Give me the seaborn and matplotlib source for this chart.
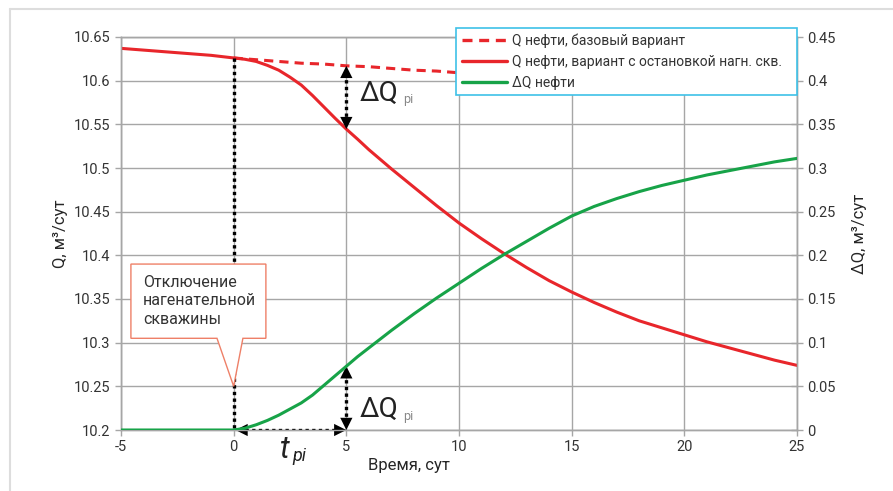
import matplotlib as mpl
import matplotlib.pyplot as plt
import seaborn as sns
import pandas as pd
from matplotlib.lines import Line2D
from matplotlib.patches import Polygon

# --- data (half-day steps where the curves bend) ---
days = [-5, -4, -3, -2, -1, 0, 0.5, 1, 1.5, 2, 2.5, 3, 3.5, 4, 4.5, 5, 5.5, 6, 7, 8, 9,
        10, 11, 12, 13, 14, 15, 16, 17, 18, 19, 20, 21, 22, 23, 24, 25]
q_stop = [10.637, 10.635, 10.633, 10.631, 10.629, 10.626, 10.6245, 10.622, 10.6175, 10.612,
          10.604, 10.595, 10.583, 10.570, 10.557, 10.5445, 10.533, 10.521, 10.499, 10.478,
          10.457, 10.437, 10.419, 10.402, 10.386, 10.371, 10.358, 10.346, 10.335, 10.325,
          10.317, 10.309, 10.301, 10.294, 10.287, 10.280, 10.274]
dq = [0, 0, 0, 0, 0, 0, 0.002, 0.006, 0.011, 0.017, 0.024, 0.031, 0.040, 0.051, 0.062,
      0.073, 0.084, 0.094, 0.114, 0.133, 0.151, 0.168, 0.185, 0.201, 0.216, 0.231, 0.245,
      0.256, 0.265, 0.273, 0.280, 0.286, 0.292, 0.297, 0.302, 0.307, 0.311]
days_base = [0, 1, 2, 3, 4, 5, 6, 7, 8, 9, 10, 11, 12, 13, 14, 15, 16, 17, 18, 19, 20,
             21, 22, 23, 24, 25]
q_base = [10.626, 10.624, 10.622, 10.620, 10.619, 10.617, 10.616, 10.614, 10.612, 10.611,
          10.609, 10.608, 10.607, 10.606, 10.605, 10.604, 10.603, 10.602, 10.601, 10.600,
          10.599, 10.598, 10.597, 10.596, 10.595, 10.594]

lbl_base = 'Q нефти, базовый вариант'
lbl_stop = 'Q нефти, вариант с остановкой нагн. скв.'
lbl_dq = 'ΔQ нефти'

t_shut = 0      # отключение скважины
t_pi = 5        # момент t_pi
i_pi = days.index(t_pi)

RED = '#E8262B'
GREEN = '#17A348'
GRID = '#A6A6A6'

sns.set_style('white')
plt.rcParams['font.family'] = ['Roboto', 'DejaVu Sans']
plt.rcParams['text.color'] = '#333333'
plt.rcParams['axes.unicode_minus'] = False
plt.rcParams['lines.solid_joinstyle'] = 'round'

frame = pd.DataFrame({'t': days, 'q': q_stop, 'dq': dq})
frame_base = pd.DataFrame({'t': days_base, 'q': q_base})

fig = plt.figure(figsize=(8.93, 4.91), dpi=100)
ax = fig.add_axes([121/893, 1-430/491, 676/893, 393/491])
ax2 = ax.twinx()

sns.lineplot(data=frame_base, x='t', y='q', ax=ax, color=RED, lw=2.2, zorder=3)
ax.lines[-1].set_dashes((3, 2))
sns.lineplot(data=frame, x='t', y='q', ax=ax, color=RED, lw=2.2, zorder=3)
sns.lineplot(data=frame, x='t', y='dq', ax=ax2, color=GREEN, lw=2.2, zorder=3)

ax.set_xlim(-5, 25)
ax.set_ylim(10.2, 10.65)
ax2.set_ylim(0, 0.45)
ax.set_xticks(range(-5, 26, 5))
ax.set_yticks([10.2 + 0.05*i for i in range(10)])
ax.set_yticklabels(['10.2', '10.25', '10.3', '10.35', '10.4', '10.45', '10.5',
                    '10.55', '10.6', '10.65'])
ax2.set_yticks([0.05*i for i in range(10)])
ax2.set_yticklabels(['0', '0.05', '0.1', '0.15', '0.2', '0.25', '0.3', '0.35', '0.4', '0.45'])

ax.grid(True, color=GRID, lw=1)
for a in (ax, ax2):
    for s in a.spines.values():
        s.set_color(GRID)
        s.set_linewidth(1)
ax.tick_params(axis='both', labelsize=10.5, colors=GRID, labelcolor='#333333',
               length=4, width=1, direction='out', left=True, bottom=True)
ax2.tick_params(axis='y', labelsize=10.5, colors=GRID, labelcolor='#333333',
                length=8, width=1, direction='inout', right=True)

ax.set_xlabel('Время, сут', fontsize=12)
ax.set_ylabel('Q, м³/сут', fontsize=12)
ax2.set_ylabel('ΔQ, м³/сут', fontsize=12)
ax.xaxis.set_label_coords(0.426, -0.072)
ax.yaxis.set_label_coords(-0.078, 0.5)
ax2.yaxis.set_label_coords(1.081, 0.5)

# dotted helper lines with arrow heads
q_base_pi = q_base[days_base.index(t_pi)]
dot = dict(color='black', lw=2.4, linestyle=(0, (1, 1)), dash_capstyle='butt', zorder=4)
ax.plot([t_shut, t_shut], [q_stop[days.index(t_shut)], 10.2], **dot)
ax.plot([t_pi, t_pi], [q_base_pi - 0.008, q_stop[i_pi] + 0.008], **dot)
ax.plot([t_pi, t_pi], [10.2 + 0.008, 10.2 + dq[i_pi] - 0.008], **dot)
ax.plot([t_shut + 0.5, t_pi - 0.5], [10.2, 10.2], **dot)

def head(x, y, dx, dy):
    ax.annotate('', xy=(x, y), xytext=(x - dx, y - dy),
                arrowprops=dict(arrowstyle='-|>', color='black', lw=0,
                                mutation_scale=22, shrinkA=0, shrinkB=0), zorder=5)

head(t_pi, q_base_pi, 0, 0.014)
head(t_pi, q_stop[i_pi], 0, -0.014)
head(t_pi, 10.2 + dq[i_pi], 0, 0.014)
head(t_pi, 10.2, 0, -0.014)
head(t_shut + 0.08, 10.2, -0.7, 0)
head(t_pi, 10.2, 0.7, 0)

ax.text(5.6, 10.5765, 'ΔQ', fontsize=20, va='baseline', color='#222222')
ax.text(7.5, 10.574, 'pi', fontsize=9, va='baseline', color='#888888')
ax.text(5.6, 10.2155, 'ΔQ', fontsize=20, va='baseline', color='#222222')
ax.text(7.5, 10.212, 'pi', fontsize=9, va='baseline', color='#888888')
ax.text(2.05, 10.1685, 't', fontsize=22, style='italic', va='baseline',
        color='#222222', clip_on=False)
ax.text(2.6, 10.164, 'pi', fontsize=13, style='italic', va='baseline',
        color='#222222', clip_on=False)

# callout
callout = Polygon([(-4.56, 10.390), (1.43, 10.390), (1.43, 10.305), (0.41, 10.305),
                   (0, 10.25), (-0.74, 10.305), (-4.56, 10.305)],
                  closed=True, facecolor='white', edgecolor='#EE8068', lw=1, zorder=6)
ax.add_patch(callout)
ax.text(-4.02, 10.348, 'Отключение\nнагенательной\nскважины', fontsize=11.5,
        va='center', ha='left', linespacing=1.3, color='#333333', zorder=7)

handles = [Line2D([], [], color=RED, lw=2.4, dashes=(3, 2)),
           Line2D([], [], color=RED, lw=2.4),
           Line2D([], [], color=GREEN, lw=2.4)]
leg = ax2.legend(handles, [lbl_base, lbl_stop, lbl_dq], loc='upper left',
                 bbox_to_anchor=(0.4956, 0.85, 0.5044, 0.173), mode='expand',
                 borderaxespad=0, fontsize=10, handlelength=3.3, handletextpad=0.3,
                 labelspacing=0.5, frameon=True, fancybox=False, framealpha=1,
                 borderpad=0.4)
leg.get_frame().set_edgecolor('#3EC1E8')
leg.get_frame().set_linewidth(1.2)
leg.set_zorder(10)

# light frame of the picture
fig.add_artist(Line2D([10/893, 10/893], [0, 1 - 9/491], color='#DDDDDD', lw=1.5))
fig.add_artist(Line2D([10/893, 1], [1 - 9/491, 1 - 9/491], color='#DDDDDD', lw=1.5))

fig.savefig('out.png', dpi=100)
